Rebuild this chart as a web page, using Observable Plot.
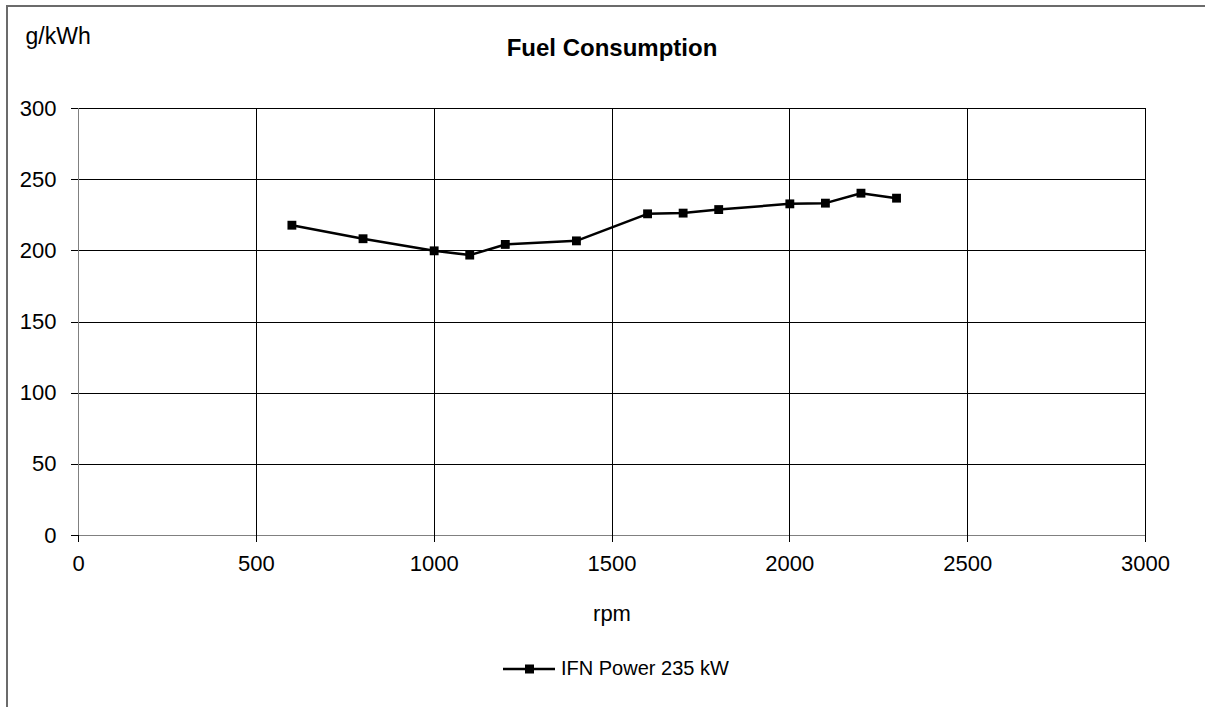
<!DOCTYPE html>
<html>
<head>
<meta charset="utf-8">
<script src="https://cdn.jsdelivr.net/npm/d3@7"></script>
<script src="https://cdn.jsdelivr.net/npm/@observablehq/plot@0.6"></script>
<style>
  html, body { margin: 0; padding: 0; background: #fff; }
  #wrap { position: relative; width: 1205px; height: 707px; overflow: hidden; font-family: "Liberation Sans", Arial, sans-serif; }
  #frame { position: absolute; left: 6px; top: 5px; width: 1210px; height: 720px; border-left: 2px solid #6b6b6b; border-top: 2px solid #6b6b6b; }
  #chart { position: absolute; left: 0; top: 0; }
  #legend { position: absolute; left: 503px; top: 657px; display: flex; align-items: center; font-size: 20px; color: #000; }
  #legend svg { margin-right: 4px; }
</style>
</head>
<body>
<div id="wrap">
  <div id="frame"></div>
  <div id="chart"></div>
  <div id="legend"></div>
</div>
<script>
// Data
const rpm = [600, 800, 1000, 1100, 1200, 1400, 1600, 1700, 1800, 2000, 2100, 2200, 2300];
const consumption = [218, 208.5, 200, 197, 204.5, 207, 226, 226.5, 229, 233, 233.5, 240.5, 237];
const seriesName = "IFN Power 235 kW";
const xTicks = [0, 500, 1000, 1500, 2000, 2500, 3000];
const yTicks = [0, 50, 100, 150, 200, 250, 300];
const chartTitle = "Fuel Consumption";
const yLabel = "g/kWh";
const xLabel = "rpm";

const data = rpm.map((r, i) => ({rpm: r, value: consumption[i]}));

const chart = Plot.plot({
  width: 1205,
  height: 707,
  marginLeft: 78,
  marginRight: 60,
  marginTop: 108,
  marginBottom: 172,
  style: {fontFamily: "Liberation Sans, Arial, sans-serif", color: "#000", background: "transparent"},
  x: {domain: [0, 3000]},
  y: {domain: [0, 300]},
  marks: [
    Plot.gridX(xTicks.filter(d => d > 0), {stroke: "#000", strokeOpacity: 1, strokeWidth: 1, shapeRendering: "crispEdges"}),
    Plot.gridY(yTicks.filter(d => d > 0), {stroke: "#000", strokeOpacity: 1, strokeWidth: 1, shapeRendering: "crispEdges"}),
    Plot.ruleX([0], {stroke: "#808080", strokeWidth: 1.5, shapeRendering: "crispEdges"}),
    Plot.ruleY([0], {stroke: "#808080", strokeWidth: 1.5, shapeRendering: "crispEdges"}),
    Plot.axisX({ticks: xTicks, tickSize: 7, tickPadding: 13, fontSize: 22, stroke: "#000", fill: "#000", label: null, tickFormat: d => String(d), shapeRendering: "crispEdges"}),
    Plot.axisY({ticks: yTicks, tickSize: 7, tickPadding: 15, fontSize: 22, stroke: "#000", fill: "#000", label: null, tickFormat: d => String(d), shapeRendering: "crispEdges"}),
    Plot.line(data, {x: "rpm", y: "value", stroke: "#000", strokeWidth: 2.5}),
    Plot.dot(data, {x: "rpm", y: "value", symbol: "square", r: 5, fill: "#000", stroke: "none"}),
    Plot.text([xLabel], {frameAnchor: "bottom", dy: 78, lineAnchor: "middle", fontSize: 22, fill: "#000"}),
    Plot.text([chartTitle], {frameAnchor: "top", dy: -53, lineAnchor: "bottom", fontSize: 24, fontWeight: "bold", fill: "#000"}),
    Plot.text([yLabel], {frameAnchor: "top-left", dx: -53, dy: -65, textAnchor: "start", lineAnchor: "bottom", fontSize: 23, fill: "#000"})
  ]
});
document.getElementById("chart").appendChild(chart);

// Legend
const legend = document.getElementById("legend");
const ns = "http://www.w3.org/2000/svg";
const lsvg = document.createElementNS(ns, "svg");
lsvg.setAttribute("width", 54);
lsvg.setAttribute("height", 20);
const ll = document.createElementNS(ns, "line");
ll.setAttribute("x1", 0); ll.setAttribute("x2", 52); ll.setAttribute("y1", 10); ll.setAttribute("y2", 10);
ll.setAttribute("stroke", "#000"); ll.setAttribute("stroke-width", 2.5);
const lr = document.createElementNS(ns, "rect");
lr.setAttribute("x", 22); lr.setAttribute("y", 5.5); lr.setAttribute("width", 9); lr.setAttribute("height", 9);
lr.setAttribute("fill", "#000");
lsvg.appendChild(ll); lsvg.appendChild(lr);
legend.appendChild(lsvg);
const span = document.createElement("span");
span.textContent = seriesName;
legend.appendChild(span);
</script>
</body>
</html>
